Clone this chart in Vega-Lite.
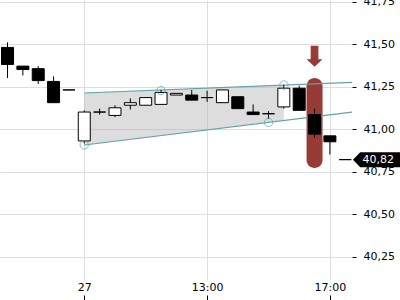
{
  "$schema": "https://vega.github.io/schema/vega-lite/v6.json",
  "width": 352,
  "height": 280,
  "autosize": {"type": "none"},
  "padding": {"left": 0, "top": 0, "right": 48, "bottom": 20},
  "config": {
    "locale": {"number": {"decimal": ",", "thousands": ".", "grouping": [3], "currency": ["", " €"]}},
    "view": {"stroke": null},
    "axis": {"labelFont": "DejaVu Sans", "labelFontSize": 11, "labelColor": "#000000", "gridColor": "#dddddd", "domain": false, "tickColor": "#000000", "title": null}
  },
  "datasets": {
    "candles": [
      {"slot": 0, "time": "26 15:30", "open": 41.48, "high": 41.51, "low": 41.30, "close": 41.38},
      {"slot": 1, "time": "26 16:00", "open": 41.37, "high": 41.37, "low": 41.315, "close": 41.35},
      {"slot": 2, "time": "26 16:30", "open": 41.355, "high": 41.37, "low": 41.265, "close": 41.285},
      {"slot": 3, "time": "26 17:00", "open": 41.28, "high": 41.31, "low": 41.155, "close": 41.155},
      {"slot": 4, "time": "26 17:30", "open": 41.23, "high": 41.23, "low": 41.23, "close": 41.23},
      {"slot": 5, "time": "27 09:00", "open": 40.93, "high": 41.11, "low": 40.915, "close": 41.10},
      {"slot": 6, "time": "27 09:30", "open": 41.10, "high": 41.12, "low": 41.085, "close": 41.10},
      {"slot": 7, "time": "27 10:00", "open": 41.08, "high": 41.14, "low": 41.07, "close": 41.125},
      {"slot": 8, "time": "27 10:30", "open": 41.14, "high": 41.18, "low": 41.115, "close": 41.155},
      {"slot": 9, "time": "27 11:00", "open": 41.14, "high": 41.185, "low": 41.14, "close": 41.185},
      {"slot": 10, "time": "27 11:30", "open": 41.145, "high": 41.23, "low": 41.145, "close": 41.215},
      {"slot": 11, "time": "27 12:00", "open": 41.20, "high": 41.21, "low": 41.20, "close": 41.21},
      {"slot": 12, "time": "27 12:30", "open": 41.20, "high": 41.23, "low": 41.17, "close": 41.17},
      {"slot": 13, "time": "27 13:00", "open": 41.185, "high": 41.225, "low": 41.16, "close": 41.185},
      {"slot": 14, "time": "27 13:30", "open": 41.155, "high": 41.23, "low": 41.155, "close": 41.23},
      {"slot": 15, "time": "27 14:00", "open": 41.19, "high": 41.19, "low": 41.12, "close": 41.12},
      {"slot": 16, "time": "27 14:30", "open": 41.10, "high": 41.145, "low": 41.085, "close": 41.085},
      {"slot": 17, "time": "27 15:00", "open": 41.09, "high": 41.105, "low": 41.06, "close": 41.09},
      {"slot": 18, "time": "27 15:30", "open": 41.13, "high": 41.26, "low": 41.12, "close": 41.24},
      {"slot": 19, "time": "27 16:00", "open": 41.24, "high": 41.255, "low": 41.11, "close": 41.11},
      {"slot": 20, "time": "27 16:30", "open": 41.085, "high": 41.12, "low": 40.95, "close": 40.97},
      {"slot": 21, "time": "27 17:00", "open": 40.96, "high": 40.96, "low": 40.85, "close": 40.925},
      {"slot": 22, "time": "27 17:30", "open": 40.82, "high": 40.82, "low": 40.82, "close": 40.82}
    ],
    "channel": [
      {"slot": 5, "upper": 41.212, "lower": 40.906},
      {"slot": 18, "upper": 41.259, "lower": 41.051}
    ],
    "trend": [
      {"line": "upper", "slot": 5, "price": 41.212},
      {"line": "upper", "slot": 22.44, "price": 41.275},
      {"line": "lower", "slot": 5, "price": 40.906},
      {"line": "lower", "slot": 22.44, "price": 41.10}
    ],
    "touches": [
      {"slot": 5, "price": 40.906},
      {"slot": 10, "price": 41.226},
      {"slot": 17, "price": 41.039},
      {"slot": 18, "price": 41.259}
    ],
    "highlight": [{"slot": 20, "top": 41.30, "bottom": 40.771, "arrow": 41.428}],
    "last": [{"slot": 22, "price": 40.82}]
  },
  "layer": [
    {
      "data": {"name": "channel"},
      "mark": {"type": "area", "fill": "#b4b4b4", "opacity": 0.45},
      "encoding": {
        "x": {"field": "slot", "type": "quantitative",
          "scale": {"domain": [-0.49, 22.44], "nice": false, "zero": false, "padding": 0},
          "axis": {"values": [5, 13, 21], "labelExpr": "datum.value == 5 ? '27' : datum.value == 13 ? '13:00' : '17:00'", "grid": true, "offset": 15, "tickSize": 5, "labelPadding": -19, "labelFlush": false, "labelOverlap": false}},
        "y": {"field": "upper", "type": "quantitative",
          "scale": {"domain": [40.112, 41.759], "nice": false, "zero": false, "padding": 0},
          "axis": {"orient": "right", "values": [40.25, 40.5, 40.75, 41, 41.25, 41.5, 41.75], "format": ".2f", "grid": true, "tickSize": 4, "labelPadding": 7, "labelFlush": false, "labelOverlap": false}},
        "y2": {"field": "lower"}
      }
    },
    {
      "data": {"name": "highlight"},
      "mark": {"type": "bar", "size": 16, "cornerRadius": 8, "color": "#983b35"},
      "encoding": {
        "x": {"field": "slot", "type": "quantitative"},
        "y": {"field": "top", "type": "quantitative"},
        "y2": {"field": "bottom"}
      }
    },
    {
      "data": {"name": "trend"},
      "mark": {"type": "line", "color": "#5fa3a8", "strokeWidth": 1.2},
      "encoding": {
        "x": {"field": "slot", "type": "quantitative"},
        "y": {"field": "price", "type": "quantitative"},
        "detail": {"field": "line"}
      }
    },
    {
      "data": {"name": "candles"},
      "mark": {"type": "rule", "color": "#000000", "strokeWidth": 1},
      "encoding": {
        "x": {"field": "slot", "type": "quantitative"},
        "y": {"field": "low", "type": "quantitative"},
        "y2": {"field": "high"}
      }
    },
    {
      "data": {"name": "candles"},
      "mark": {"type": "bar", "size": 12, "stroke": "#000000", "strokeWidth": 1},
      "encoding": {
        "x": {"field": "slot", "type": "quantitative"},
        "y": {"field": "open", "type": "quantitative"},
        "y2": {"field": "close"},
        "fill": {"condition": {"test": "datum.close > datum.open", "value": "#ffffff"}, "value": "#000000"}
      }
    },
    {
      "data": {"name": "touches"},
      "mark": {"type": "point", "shape": "circle", "size": 70, "filled": false, "stroke": "#5fa3a8", "strokeWidth": 1},
      "encoding": {
        "x": {"field": "slot", "type": "quantitative"},
        "y": {"field": "price", "type": "quantitative"}
      }
    },
    {
      "data": {"name": "highlight"},
      "mark": {"type": "point", "shape": "M-0.367,-1 L0.367,-1 L0.367,0.295 L0.762,0.295 L0,1 L-0.762,0.295 L-0.367,0.295 Z", "size": 441, "filled": true, "fill": "#983b35", "strokeWidth": 0, "opacity": 1},
      "encoding": {
        "x": {"field": "slot", "type": "quantitative"},
        "y": {"field": "arrow", "type": "quantitative"}
      }
    },
    {
      "data": {"name": "last"},
      "mark": {"type": "point", "shape": "M0.77,0 L1.5,-0.75 L5.5,-0.75 L5.5,0.75 L1.5,0.75 Z", "size": 400, "filled": true, "fill": "#000000", "strokeWidth": 0, "opacity": 1},
      "encoding": {
        "x": {"field": "slot", "type": "quantitative"},
        "y": {"field": "price", "type": "quantitative"}
      }
    },
    {
      "data": {"name": "last"},
      "mark": {"type": "text", "dx": 33, "align": "center", "baseline": "middle", "font": "DejaVu Sans", "fontSize": 11, "color": "#ffffff"},
      "encoding": {
        "x": {"field": "slot", "type": "quantitative"},
        "y": {"field": "price", "type": "quantitative"},
        "text": {"field": "price", "type": "quantitative", "format": ".2f"}
      }
    }
  ]
}
